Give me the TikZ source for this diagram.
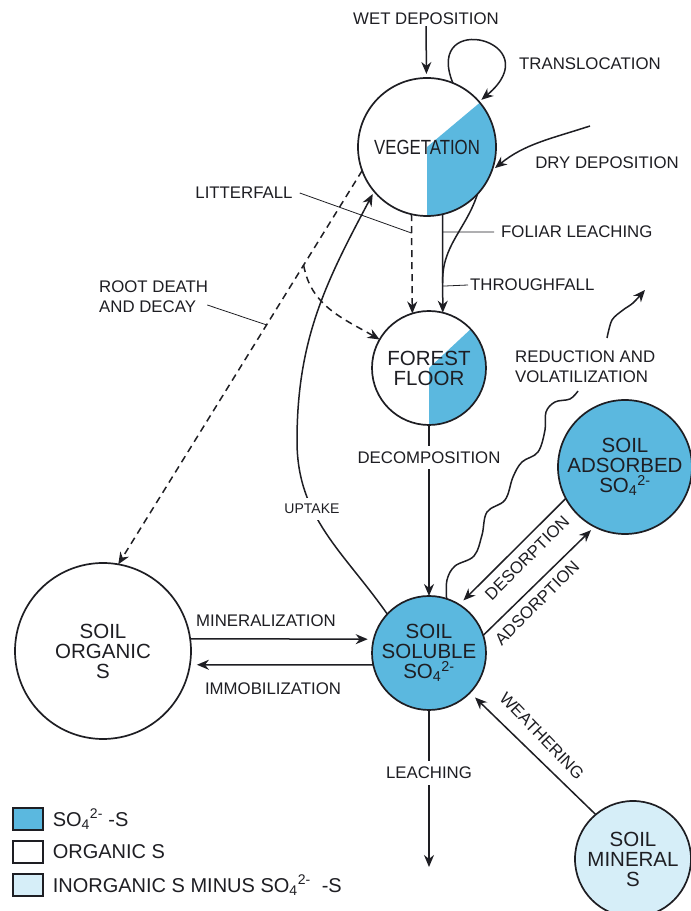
\documentclass[tikz,border=0pt]{standalone}
\usepackage{fontspec}
\setmainfont{Liberation Sans}
\newfontfamily\narrowsans{Liberation Sans}[FakeStretch=0.82]
\usetikzlibrary{arrows.meta, positioning, calc, backgrounds}

\definecolor{sblue}{RGB}{91,184,223}
\definecolor{lblue}{RGB}{214,238,248}
\definecolor{ink}{RGB}{30,30,35}

\newcommand{\sulf}{SO\textsubscript{4}\textsuperscript{2-}}

\begin{document}
\begin{tikzpicture}[x=1pt, y=1pt,
  lbl/.style={font=\fontsize{16.8}{20}\selectfont, text=ink, inner sep=1pt},
  cut/.style={lbl, fill=white, inner sep=6pt},
  pool/.style={circle, draw=ink, line width=1.7pt, inner sep=0pt, outer sep=0pt,
    align=center, text=ink, font=\fontsize{20.5}{20}\selectfont},
  link/.style={line width=1.5pt, draw=ink},
  flow/.style={link, -{Stealth[length=12pt, width=10pt]}},
  dashflow/.style={flow, dash pattern=on 7pt off 5pt},
  leader/.style={line width=0.8pt, draw=ink},
  keybox/.style={draw=ink, line width=1.2pt, minimum width=30pt, minimum height=22pt, inner sep=0pt},
  keytext/.style={font=\fontsize{20}{22}\selectfont, text=ink, inner sep=0pt}
]
  \useasboundingbox (0,0) rectangle (691,911);

  % POOLS
  \node[pool, minimum size=138pt, font=\fontsize{20.5}{20}\narrowsans] (veg) at (427,764) {VEGETATION};
  \node[pool, minimum size=114pt] (floor) at (429,543) {FOREST\\FLOOR};
  \node[pool, fill=sblue, minimum size=114pt] (sol) at (429,258) {SOIL\\SOLUBLE\\\sulf};
  \node[pool, fill=sblue, minimum size=134pt] (ads) at (625,444) {SOIL\\ADSORBED\\\sulf};
  \node[pool, fill=white, minimum size=176pt] (org) at (103,260) {SOIL\\ORGANIC\\S};
  \node[pool, fill=lblue, minimum size=116pt] (min) at (633,52) {SOIL\\MINERAL\\S};

  % sulphate share of vegetation and forest floor
  \begin{scope}[on background layer]
    \fill[white] (0,0) rectangle (691,911);
    \fill[sblue] (veg.center) -- (veg.south) arc[start angle=-90, end angle=40, radius=69pt] -- cycle;
    \fill[sblue] (floor.center) -- (floor.south) arc[start angle=-90, end angle=43, radius=57pt] -- cycle;
  \end{scope}

  % LABELS
  \node[lbl] (wet) at (426,892) {WET DEPOSITION};
  \node[lbl] (transl) at (590,847) {TRANSLOCATION};
  \node[lbl] (dry) at (607,748) {DRY DEPOSITION};
  \node[lbl, anchor=west] (foliar) at (500,679) {FOLIAR LEACHING};
  \node[lbl, anchor=west] (through) at (469,626) {THROUGHFALL};
  \node[lbl] (litter) at (244,718) {LITTERFALL};
  \node[lbl, anchor=west, align=left] (root) at (98,614) {ROOT DEATH\\AND DECAY};
  \node[lbl, anchor=west, align=left] (redu) at (514,544) {REDUCTION AND\\VOLATILIZATION};
  \node[lbl] (minl) at (266,290) {MINERALIZATION};
  \node[lbl] (imml) at (273,222) {IMMOBILIZATION};
  \node[lbl, rotate=45] (desl) at (527,353) {DESORPTION};
  \node[lbl, rotate=45] (adsl) at (537,308) {ADSORPTION};
  \node[lbl, rotate=-46] (weal) at (542,175) {WEATHERING};

  \coordinate (drystart) at (590,785);
  \coordinate (uptmid) at (297,470);
  \coordinate (leachend) at (429,44);
  \coordinate (volA) at (578,520);
  \coordinate (volB) at (607,573);
  \coordinate (volC) at (645,621);
  \coordinate (litterpt) at ($(veg.-103)!0.19!(floor.107)$);
  \coordinate (foliarpt) at ($(veg.-77)!0.18!(floor.76)$);
  \coordinate (mergept) at ($(veg.-77)!0.70!(floor.76)$);
  \coordinate (throughpt) at ($(veg.-77)!0.73!(floor.76)$);
  \coordinate (rootpt) at ($(veg.-160)!0.392!(org.80)$);
  \coordinate (brpt) at ($(veg.-160)!0.24!(org.80)$);

  % canopy
  \draw[flow, shorten >=4pt] (wet) -- (veg);
  \draw[flow, shorten >=3pt] (veg.68) .. controls +(112:80) and +(40:95) .. (veg.41);
  \draw[flow, shorten >=4pt] (drystart) to[out=198, in=39] (veg.-20);
  \draw[dashflow] (veg.-103) -- (floor.107);
  \draw[flow] (veg.-77) -- (floor.76);
  \draw[link] (veg.-43) to[out=-108, in=92] (mergept);
  \draw[dashflow] (veg.-160) -- (org.80);
  \draw[dashflow] (brpt) to[out=-80, in=150] (floor.150);

  % leaders
  \draw[leader] ([xshift=6pt]litter.east) -- (litterpt);
  \draw[leader] ([shift={(-2,-8)}]root.east) -- (rootpt);
  \draw[leader] (foliarpt) -- ([xshift=-6pt]foliar.west);
  \draw[leader] (throughpt) -- ([xshift=-1pt]through.west);

  % soil
  \draw[flow] (floor) -- node[cut, pos=0.19] (decomp) {DECOMPOSITION} (sol);
  \draw[flow, shorten >=3pt] (sol.137) to[out=125, in=-90]
    node[cut, pos=0.65, font=\fontsize{14}{16}\selectfont] (uptl) {UPTAKE} (uptmid)
    to[out=90, in=-118] (veg.-140);
  \draw[flow, shorten >=6pt] (org.8) -- (sol.166);
  \draw[flow, shorten >=7pt] (sol.192) -- (org.-9);
  \draw[flow, shorten >=6pt] (ads.208) -- (sol.58);
  \draw[flow, shorten >=5pt] (sol.18) -- (ads.243);
  \draw[flow, shorten >=7pt] (min.130) -- (sol.-44);
  \draw[flow] (sol) -- node[cut, pos=0.4] (leachl) {LEACHING} (leachend);
  \draw[link] plot[smooth, tension=0.6] coordinates {(sol.72) (447,331) (455,345) (474,355)
    (482,376) (487,399) (505,411) (513,434) (522,449) (538,459) (545,481) (546,499)
    (555,509) (570,512) (volA)};
  \draw[flow] plot[smooth] coordinates {(volB) (612,591) (623,601) (633,608) (volC)};

  % legend
  \node[keybox, fill=sblue] (k1) at (28,92) {};
  \node[keytext, right=9pt of k1] (t1) {\sulf\ -S};
  \node[keybox, fill=white] (k2) at (28,59) {};
  \node[keytext, right=9pt of k2] (t2) {ORGANIC S};
  \node[keybox, fill=lblue] (k3) at (28,26) {};
  \node[keytext, right=9pt of k3] (t3) {INORGANIC S MINUS \sulf\ \ -S};
\end{tikzpicture}
\end{document}
